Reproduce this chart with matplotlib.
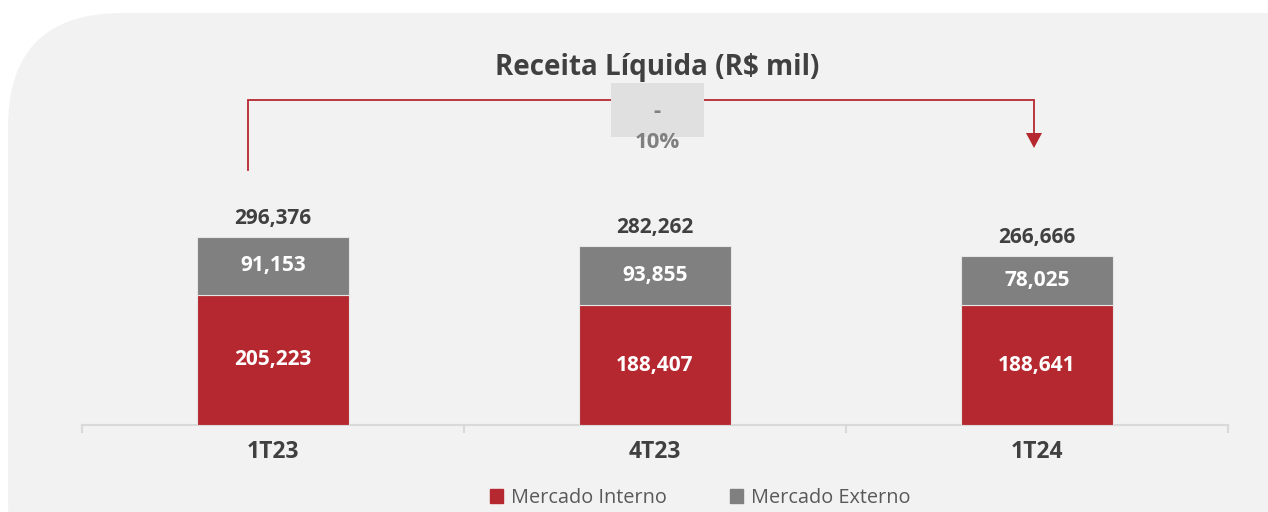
import numpy as np
import matplotlib.pyplot as plt
from matplotlib.patches import FancyBboxPatch, Rectangle, Patch

plt.rcParams['font.family'] = ['Open Sans', 'DejaVu Sans']

categorias = ['1T23', '4T23', '1T24']
mercado_interno = [205223, 188407, 188641]
mercado_externo = [91153, 93855, 78025]
variacao = '-\n10%'
titulo = 'Receita Líquida (R$ mil)'

vermelho = '#b5282f'
cinza = '#808080'
texto = '#404040'
fundo = '#f2f2f2'

totais = [a + b for a, b in zip(mercado_interno, mercado_externo)]
x = np.arange(len(categorias))

fig = plt.figure(figsize=(12.68, 5.12), dpi=100)
fig.patch.set_facecolor('white')

# painel cinza arredondado
painel = FancyBboxPatch((8 / 1268, -0.2), 1.2, (512 - 13) / 512 + 0.2,
                        boxstyle='round,pad=0,rounding_size=0.09',
                        transform=fig.transFigure, facecolor=fundo,
                        edgecolor='none', mutation_aspect=1268 / 512, zorder=-5)
fig.patches.append(painel)

ax = fig.add_axes([82 / 1268, 87 / 512, 1146 / 1268, 365 / 512])
ax.set_facecolor('none')
ymax = totais[0] * 365 / 188
ax.set_xlim(-0.5, len(categorias) - 0.5)
ax.set_ylim(0, ymax)

ax.bar(x, mercado_interno, width=0.4, color=vermelho, edgecolor='#e6e6e6', lw=0.8, zorder=3)
ax.bar(x, mercado_externo, width=0.4, bottom=mercado_interno, color=cinza,
       edgecolor='#e6e6e6', lw=0.8, zorder=3)

for i in range(len(categorias)):
    ax.text(x[i], mercado_interno[i] / 2, f'{mercado_interno[i]:,}', ha='center', va='center',
            color='white', fontsize=15, fontweight='bold', zorder=4)
    ax.text(x[i], mercado_interno[i] + mercado_externo[i] / 2, f'{mercado_externo[i]:,}',
            ha='center', va='center', color='white', fontsize=15, fontweight='bold', zorder=4)
    ax.annotate(f'{totais[i]:,}', (x[i], totais[i]), xytext=(0, 13), textcoords='offset points',
                ha='center', va='center', color=texto, fontsize=15, fontweight='bold')

# eixo
for s in ['top', 'right', 'left']:
    ax.spines[s].set_visible(False)
ax.spines['bottom'].set_color('#d9d9d9')
ax.spines['bottom'].set_linewidth(1.5)
ax.set_yticks([])
ax.set_xticks(np.arange(-0.5, len(categorias)), minor=True)
ax.set_xticks(x)
ax.set_xticklabels(categorias, fontsize=16.5, fontweight='bold', color=texto)
ax.tick_params(axis='x', which='major', length=0, pad=10.5)
ax.tick_params(axis='x', which='minor', length=6, width=1.5, color='#d9d9d9')

# colchete de variação
px = ymax / 365
y_top = (425 - 100) * px
y_start = (425 - 170) * px
y_tip = (425 - 148) * px
x0 = x[0] - 25 / 382
x1 = x[-1] - 3 / 382
ax.plot([x0, x0, x1, x1], [y_start, y_top, y_top, y_tip + 15 * px],
        color=vermelho, lw=1.3, clip_on=False, zorder=2, solid_joinstyle='miter')
ax.fill([x1 - 8 / 382, x1 + 8 / 382, x1], [y_tip + 15 * px, y_tip + 15 * px, y_tip],
        color=vermelho, clip_on=False, zorder=2, lw=0)

xm = (x[0] + x[-1]) / 2 + 2 / 382
ax.add_patch(Rectangle((xm - 46 / 382, (425 - 137) * px), 93 / 382, 54 * px,
                       facecolor='#dfe0df', edgecolor='none', clip_on=False, zorder=3))
ax.text(xm, (425 - 127) * px, variacao, ha='center', va='center', color=cinza,
        fontsize=16, fontweight='bold', linespacing=1.6, zorder=4)

fig.text(657 / 1268, 1 - 67 / 512, titulo, ha='center', va='center',
         fontsize=20, fontweight='bold', color=texto)

handles = [Patch(color=vermelho, label='Mercado Interno'),
           Patch(color=cinza, label='Mercado Externo')]
leg = fig.legend(handles=handles, loc='center', bbox_to_anchor=(700 / 1268, 14 / 512),
                 ncol=2, frameon=False, fontsize=14.3, handlelength=0.65, handleheight=0.65,
                 handletextpad=0.4, columnspacing=3.2)
for t in leg.get_texts():
    t.set_color('#595959')

fig.savefig('out.png', dpi=100, facecolor=fig.get_facecolor())
